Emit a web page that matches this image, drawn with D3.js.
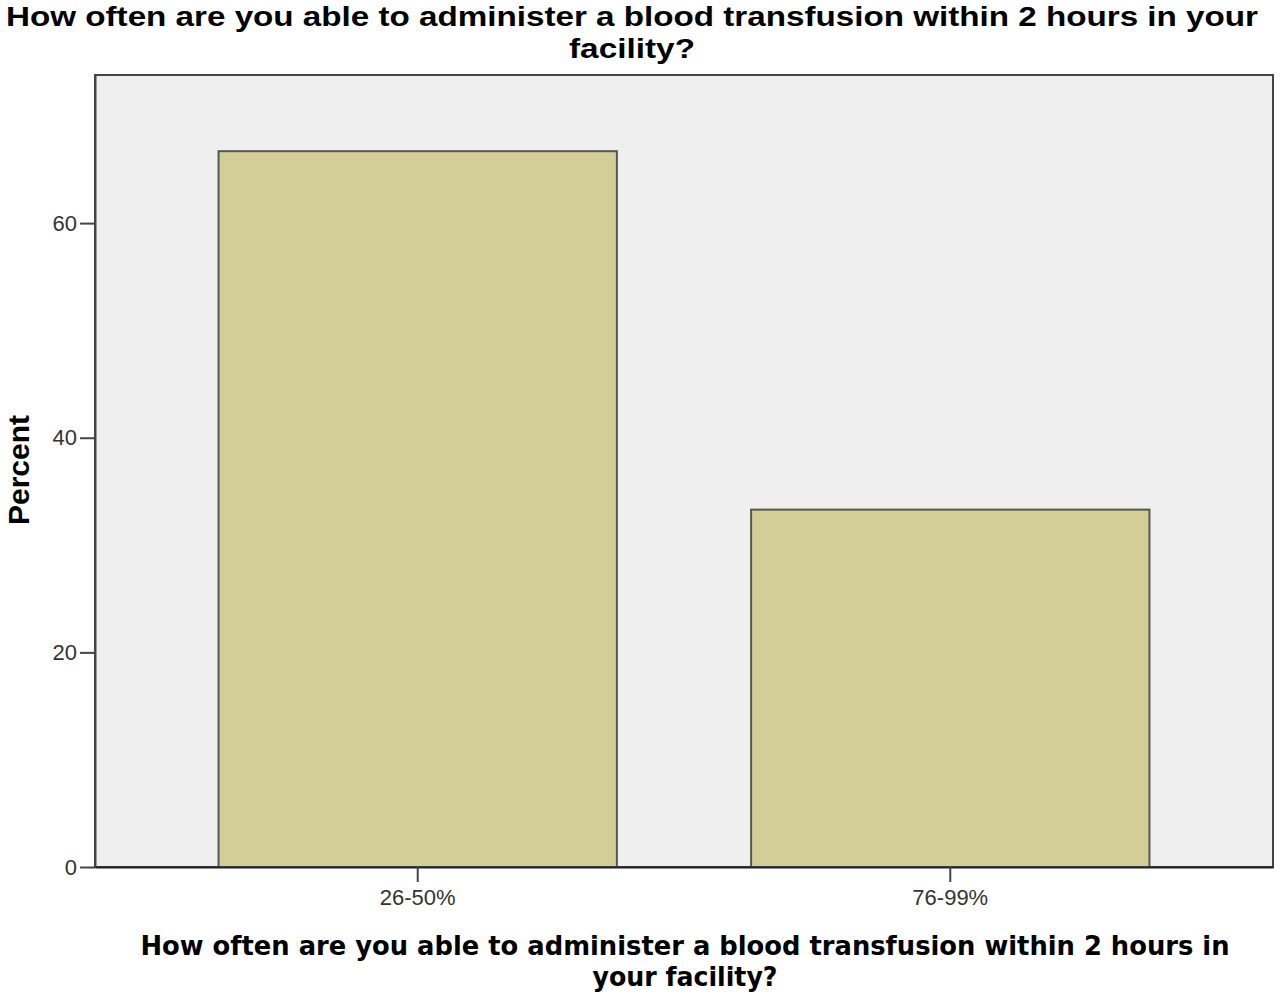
<!DOCTYPE html>
<html>
<head>
<meta charset="utf-8">
<script src="https://cdn.jsdelivr.net/npm/d3@7"></script>
<style>
  body { margin: 0; background: #fff; }
  svg { display: block; }
</style>
</head>
<body>
<div id="chart"></div>
<script>
// chart data
var categories = ["26-50%", "76-99%"];
var percents = [66.7, 33.3];
var yTicks = [0, 20, 40, 60];
var titleLines = ["How often are you able to administer a blood transfusion within 2 hours in your", "facility?"];
var xTitleLines = ["How often are you able to administer a blood transfusion within 2 hours in", "your facility?"];

var W = 1280, H = 999;
var margin = {top: 75, right: 7, bottom: 132, left: 95};
var width = W - margin.left - margin.right,
    height = H - margin.top - margin.bottom;

var svg = d3.select("#chart").append("svg")
    .attr("width", W)
    .attr("height", H);

// title (two lines, stretched to the original width)
var titleLens = [1252, 126];
svg.append("g")
    .selectAll("text")
    .data(titleLines)
    .enter().append("text")
    .attr("x", 632)
    .attr("y", function(d, i) { return 26 + i * 32; })
    .attr("text-anchor", "middle")
    .attr("textLength", function(d, i) { return titleLens[i]; })
    .attr("lengthAdjust", "spacingAndGlyphs")
    .style("font-family", "Liberation Sans, Arial, sans-serif")
    .style("font-weight", "bold")
    .style("font-size", "28px")
    .text(function(d) { return d; });

var g = svg.append("g")
    .attr("transform", "translate(" + margin.left + "," + margin.top + ")");

// plot background
g.append("rect")
    .attr("width", width)
    .attr("height", height)
    .attr("fill", "#efefef")
    .attr("stroke", "#444")
    .attr("stroke-width", 2);

var x = d3.scaleBand()
    .domain(categories)
    .range([0, width])
    .paddingInner(0.252)
    .paddingOuter(0.232);

var y = d3.scaleLinear()
    .domain([0, 73.8])
    .range([height, 0]);

// bars
g.selectAll(".bar")
    .data(percents)
    .enter().append("rect")
    .attr("class", "bar")
    .attr("x", function(d, i) { return x(categories[i]); })
    .attr("y", function(d) { return y(d); })
    .attr("width", x.bandwidth())
    .attr("height", function(d) { return height - y(d); })
    .attr("fill", "#d3ce97")
    .attr("stroke", "#555")
    .attr("stroke-width", 2);

// y axis
var yAxis = g.append("g")
    .call(d3.axisLeft(y).tickValues(yTicks).tickSizeInner(15).tickSizeOuter(0).tickPadding(3));
yAxis.select(".domain").attr("stroke", "#444").attr("stroke-width", 2);
yAxis.selectAll(".tick line").attr("stroke", "#444").attr("stroke-width", 2);
yAxis.selectAll(".tick text")
    .style("font-family", "Liberation Sans, Arial, sans-serif")
    .style("font-size", "22px")
    .attr("fill", "#333");

// x axis
var xAxis = g.append("g")
    .attr("transform", "translate(0," + height + ")")
    .call(d3.axisBottom(x).tickSizeInner(15).tickSizeOuter(0).tickPadding(7));
xAxis.select(".domain").attr("stroke", "#222").attr("stroke-width", 2);
xAxis.selectAll(".tick line").attr("stroke", "#444").attr("stroke-width", 2);
xAxis.selectAll(".tick text")
    .style("font-family", "Liberation Sans, Arial, sans-serif")
    .style("font-size", "22px")
    .attr("fill", "#333");

// x axis title
var xTitleLens = [1089, 185];
svg.append("g")
    .selectAll("text")
    .data(xTitleLines)
    .enter().append("text")
    .attr("x", 685)
    .attr("y", function(d, i) { return 955 + i * 31; })
    .attr("text-anchor", "middle")
    .attr("textLength", function(d, i) { return xTitleLens[i]; })
    .attr("lengthAdjust", "spacingAndGlyphs")
    .style("font-family", "DejaVu Sans, Verdana, sans-serif")
    .style("font-weight", "bold")
    .style("font-size", "27px")
    .text(function(d) { return d; });

// y axis title
svg.append("text")
    .attr("transform", "translate(29,470) rotate(-90)")
    .attr("text-anchor", "middle")
    .style("font-family", "Liberation Sans, Arial, sans-serif")
    .style("font-weight", "bold")
    .style("font-size", "30px")
    .text("Percent");
</script>
</body>
</html>
